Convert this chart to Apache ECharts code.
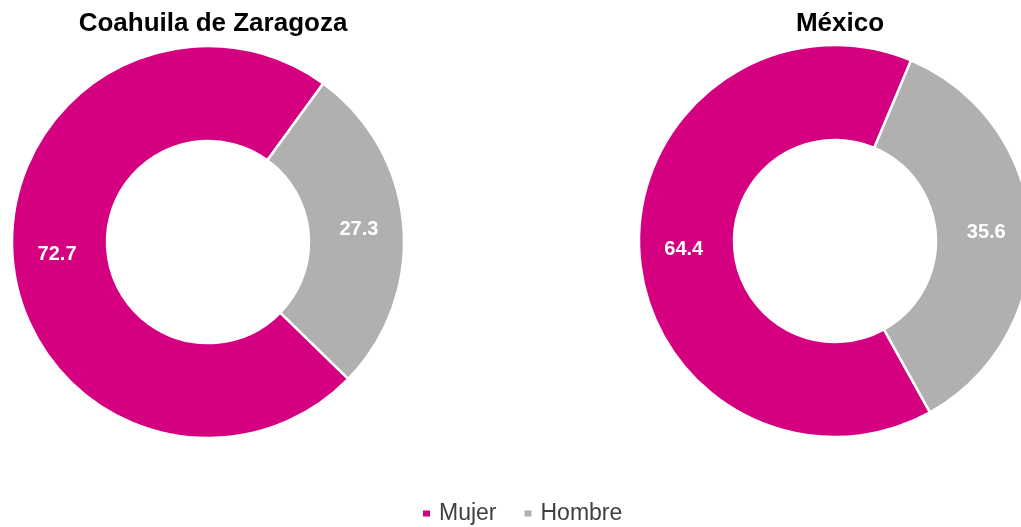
<!DOCTYPE html>
<html>
<head>
<meta charset="utf-8">
<script src="https://cdn.jsdelivr.net/npm/echarts@6/dist/echarts.min.js"></script>
<style>
  html, body { margin: 0; padding: 0; background: #fff; }
  #chart { width: 1021px; height: 527px; }
</style>
</head>
<body>
<div id="chart"></div>
<script>
// datos
const categories = ['Mujer', 'Hombre']
const regions = ['Coahuila de Zaragoza', 'México']
const coahuila = [72.7, 27.3]
const mexico = [64.4, 35.6]

const colors = ['#d5007f', '#b0b0b0']
const font = 'Arial, "Liberation Sans", sans-serif'

function pieData(values) {
  return categories.map((name, i) => ({ name: name, value: values[i] }))
}

function donut(name, values, cx, cy, startAngle) {
  return {
    name: name,
    type: 'pie',
    center: [cx, cy],
    radius: [101, 196],
    startAngle: startAngle,
    clockwise: true,
    avoidLabelOverlap: false,
    silent: true,
    itemStyle: { borderColor: '#fff', borderWidth: 2.5 },
    label: {
      show: true,
      position: 'inside',
      formatter: p => p.value.toFixed(1),
      color: '#fff',
      fontFamily: font,
      fontWeight: 'bold',
      fontSize: 20
    },
    labelLine: { show: false },
    data: pieData(values)
  }
}

const myChart = echarts.init(document.getElementById('chart'))
const option = {
  animation: false,
  color: colors,
  title: [
    {
      text: regions[0],
      left: 208,
      top: 6,
      textAlign: 'center',
      textStyle: { fontFamily: font, fontSize: 26, fontWeight: 'bold', color: '#000' }
    },
    {
      text: regions[1],
      left: 835,
      top: 6,
      textAlign: 'center',
      textStyle: { fontFamily: font, fontSize: 26, fontWeight: 'bold', color: '#000' }
    }
  ],
  legend: {
    data: categories,
    left: 421,
    top: 502,
    padding: 0,
    icon: 'rect',
    itemWidth: 9,
    itemHeight: 8,
    itemGap: 26,
    textStyle: {
      fontFamily: font,
      fontSize: 23,
      color: '#404040',
      padding: [0, 0, 0, 3]
    }
  },
  series: [
    donut(regions[0], coahuila, 208, 242, -44.3),
    donut(regions[1], mexico, 835, 241, -61)
  ]
}
myChart.setOption(option)
window.addEventListener('resize', function() {
  myChart.resize()
})
</script>
</body>
</html>
